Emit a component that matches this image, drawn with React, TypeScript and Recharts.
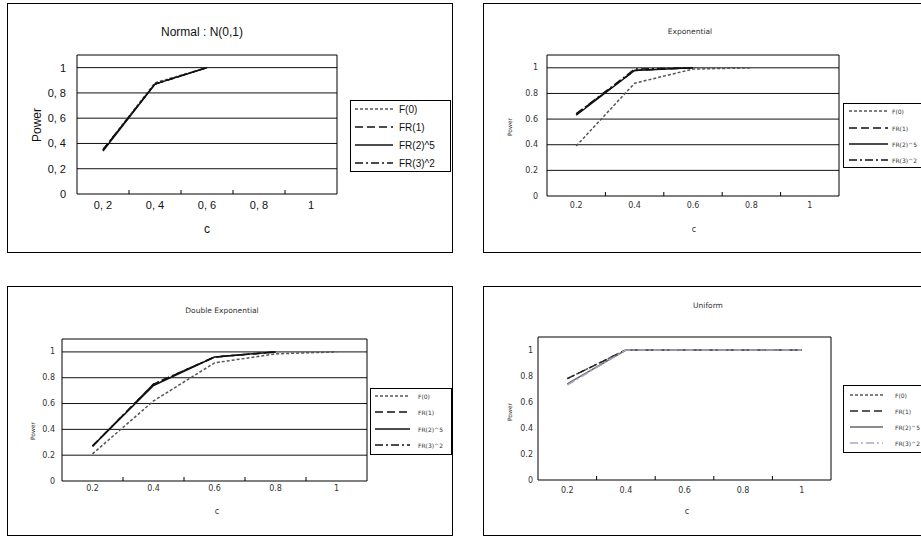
import React from 'react';
import { LineChart, Line, XAxis, YAxis, CartesianGrid, ReferenceArea, Legend } from 'recharts';

// ---- data ----
const cValues = [0.2, 0.4, 0.6, 0.8, 1];
const xTickValues = [0.2, 0.3, 0.4, 0.5, 0.6, 0.7, 0.8, 0.9, 1];
const yTickValues = [0, 0.2, 0.4, 0.6, 0.8, 1];

const normalXLabels = ['0, 2', '0, 4', '0, 6', '0, 8', '1'];
const normalYLabels = ['0', '0, 2', '0, 4', '0, 6', '0, 8', '1'];
const dotXLabels = ['0.2', '0.4', '0.6', '0.8', '1'];
const dotYLabels = ['0', '0.2', '0.4', '0.6', '0.8', '1'];

const seriesNames = ['F(0)', 'FR(1)', 'FR(2)^5', 'FR(3)^2'];

const normalF0 = [0.35, 0.88, 1.0, null, null];
const normalFR1 = [0.35, 0.87, 1.0, null, null];
const normalFR2 = [0.34, 0.87, 1.0, null, null];
const normalFR3 = [0.35, 0.87, 1.0, null, null];

const expF0 = [0.39, 0.88, 0.99, 1.0, null];
const expFR1 = [0.64, 0.98, 1.0, null, null];
const expFR2 = [0.63, 0.98, 1.0, null, null];
const expFR3 = [0.64, 0.99, 1.0, null, null];

const dexpF0 = [0.21, 0.62, 0.915, 0.985, 1.0];
const dexpFR1 = [0.27, 0.75, 0.96, 1.0, null];
const dexpFR2 = [0.27, 0.74, 0.96, 1.0, null];
const dexpFR3 = [0.27, 0.75, 0.96, 1.0, null];

const unifF0 = [0.78, 1.0, 1.0, 1.0, 1.0];
const unifFR1 = [0.78, 1.0, 1.0, 1.0, 1.0];
const unifFR2 = [0.74, 1.0, 1.0, 1.0, 1.0];
const unifFR3 = [0.73, 1.0, 1.0, 1.0, 1.0];

const buildRows = (f0: any[], fr1: any[], fr2: any[], fr3: any[]) =>
  cValues.map((c, i) => ({ c, f0: f0[i], fr1: fr1[i], fr2: fr2[i], fr3: fr3[i] }));

const seriesKeys = ['f0', 'fr1', 'fr2', 'fr3'];
const seriesDash = ['3 2', '8 4', undefined, '8 3 2 3'];
const darkColors = ['#555', '#111', '#111', '#111'];
const uniformColors = ['#555', '#222', '#666', '#a8a8c8'];

type PanelCfg = {
  left: number; top: number; width: number; height: number;
  margin: { top: number; right: number; bottom: number; left: number };
  title: string; titleX: number; titleY: number; titleSize: number;
  cX: number; cY: number; labelSize: number;
  powerX: number; powerY: number; powerSize: number;
  tickSize: number; xLabelDy: number; yGap: number;
  xLabels: string[]; yLabels: string[];
  rows: any[]; colors: string[]; grid: boolean;
  font: string; textColor: string;
  legend: { x: number; y: number; w: number; h: number; lx1: number; lx2: number; tx: number; rows: number[]; size: number };
};

const Panel = ({ cfg }: { cfg: PanelCfg }) => {
  const XTick = (props: any) => {
    const { x, y, index } = props;
    if (index % 2 === 1) {
      return <line x1={x} x2={x} y1={y} y2={y - 4} stroke="#000" strokeWidth={1} />;
    }
    return (
      <text x={x} y={y + cfg.xLabelDy} textAnchor="middle" dominantBaseline="central"
        fontSize={cfg.tickSize} fontFamily={cfg.font} fill={cfg.textColor}>
        {cfg.xLabels[index / 2]}
      </text>
    );
  };
  const YTick = (props: any) => {
    const { x, y, index } = props;
    return (
      <text x={x} y={y} textAnchor="end" dominantBaseline="central"
        fontSize={cfg.tickSize} fontFamily={cfg.font} fill={cfg.textColor}>
        {cfg.yLabels[index]}
      </text>
    );
  };
  const lg = cfg.legend;
  const renderLegend = () => (
    <div style={{ width: lg.w, height: lg.h, border: '1px solid #000', boxSizing: 'border-box', background: '#fff' }}>
      <svg width={lg.w} height={lg.h} style={{ display: 'block', marginLeft: -1, marginTop: -1, overflow: 'visible' }}>
        {seriesNames.map((n, i) => (
          <g key={n}>
            <line x1={lg.lx1} x2={lg.lx2} y1={lg.rows[i]} y2={lg.rows[i]} stroke={cfg.colors[i]}
              strokeDasharray={seriesDash[i]} strokeWidth={1.5} />
            <text x={lg.tx} y={lg.rows[i]} dominantBaseline="central" fontSize={lg.size}
              fontFamily={cfg.font} fill={cfg.textColor}>{n}</text>
          </g>
        ))}
      </svg>
    </div>
  );
  return (
    <div style={{ position: 'absolute', left: cfg.left, top: cfg.top, width: cfg.width, height: cfg.height }}>
      <div style={{ position: 'absolute', inset: 0, border: '1px solid #000', boxSizing: 'border-box' }} />
      <LineChart width={cfg.width} height={cfg.height} data={cfg.rows} margin={cfg.margin}>
        {cfg.grid && (
          <CartesianGrid vertical={false} stroke="#111" strokeWidth={1} horizontalValues={[0.2, 0.4, 0.6, 0.8, 1]} yAxisId="y" xAxisId="x" />
        )}
        <XAxis xAxisId="x" dataKey="c" type="number" domain={[0.1, 1.1]} ticks={xTickValues}
          axisLine={false} tickLine={false} tickSize={0} tickMargin={0} height={30}
          tick={<XTick />} interval={0} allowDataOverflow />
        <YAxis yAxisId="y" type="number" domain={[0, 1.1]} ticks={yTickValues}
          axisLine={false} tickLine={false} tickSize={0} tickMargin={cfg.yGap} width={40}
          tick={<YTick />} interval={0} allowDataOverflow />
        <ReferenceArea xAxisId="x" yAxisId="y" x1={0.1} x2={1.1} y1={0} y2={1.1}
          fill="none" fillOpacity={0} stroke="#000" strokeWidth={1} ifOverflow="visible" />
        {seriesKeys.map((k, i) => (
          <Line key={k} xAxisId="x" yAxisId="y" type="linear" dataKey={k} name={seriesNames[i]}
            stroke={cfg.colors[i]} strokeDasharray={seriesDash[i]} strokeWidth={1.5}
            dot={false} activeDot={false} isAnimationActive={false} connectNulls={false} />
        ))}
        <Legend layout="vertical" align="center" verticalAlign="middle" content={renderLegend}
          wrapperStyle={{ left: lg.x, top: lg.y, width: lg.w, height: lg.h }} />
        <text x={cfg.titleX} y={cfg.titleY} textAnchor="middle" dominantBaseline="central"
          fontSize={cfg.titleSize} fontFamily={cfg.font} fill={cfg.textColor}>{cfg.title}</text>
        <text x={cfg.cX} y={cfg.cY} textAnchor="middle" dominantBaseline="central"
          fontSize={cfg.labelSize} fontFamily={cfg.font} fill={cfg.textColor}>c</text>
        <text x={cfg.powerX} y={cfg.powerY} textAnchor="middle" dominantBaseline="central"
          transform={`rotate(-90 ${cfg.powerX} ${cfg.powerY})`}
          fontSize={cfg.powerSize} fontFamily={cfg.font} fill={cfg.textColor}>Power</text>
      </LineChart>
    </div>
  );
};

const bigFont = '"Liberation Sans", Arial, sans-serif';
const smallFont = '"DejaVu Sans", sans-serif';

const panels: PanelCfg[] = [
  {
    left: 7, top: 3, width: 446, height: 250,
    margin: { top: 52, right: 116, bottom: 29, left: 30 },
    title: 'Normal : N(0,1)', titleX: 195, titleY: 29, titleSize: 12,
    cX: 200, cY: 226, labelSize: 12, powerX: 30, powerY: 122, powerSize: 12,
    tickSize: 11, xLabelDy: 11, yGap: 11,
    xLabels: normalXLabels, yLabels: normalYLabels,
    rows: buildRows(normalF0, normalFR1, normalFR2, normalFR3), colors: darkColors, grid: true,
    font: bigFont, textColor: '#111',
    legend: { x: 343, y: 97, w: 101, h: 72, lx1: 5, lx2: 43, tx: 49, rows: [9, 27, 45, 63], size: 10 },
  },
  {
    left: 483, top: 3, width: 446, height: 250,
    margin: { top: 52, right: 90, bottom: 27, left: 24 },
    title: 'Exponential', titleX: 207, titleY: 28, titleSize: 7.5,
    cX: 211, cY: 226, labelSize: 8, powerX: 26, powerY: 124, powerSize: 6,
    tickSize: 8, xLabelDy: 9, yGap: 9,
    xLabels: dotXLabels, yLabels: dotYLabels,
    rows: buildRows(expF0, expFR1, expFR2, expFR3), colors: darkColors, grid: true,
    font: smallFont, textColor: '#333',
    legend: { x: 360, y: 100, w: 101, h: 65, lx1: 6, lx2: 45, tx: 49, rows: [8, 25, 41, 57], size: 6 },
  },
  {
    left: 7, top: 286, width: 446, height: 250,
    margin: { top: 53, right: 86, bottom: 25, left: 15 },
    title: 'Double Exponential', titleX: 215, titleY: 24, titleSize: 7.5,
    cX: 210, cY: 225, labelSize: 8, powerX: 25, powerY: 145, powerSize: 6,
    tickSize: 8, xLabelDy: 7, yGap: 7,
    xLabels: dotXLabels, yLabels: dotYLabels,
    rows: buildRows(dexpF0, dexpFR1, dexpFR2, dexpFR3), colors: darkColors, grid: true,
    font: smallFont, textColor: '#333',
    legend: { x: 363, y: 102, w: 82, h: 67, lx1: 5, lx2: 40, tx: 48, rows: [8, 24, 41, 57], size: 6 },
  },
  {
    left: 483, top: 286, width: 446, height: 250,
    margin: { top: 51, right: 98, bottom: 26, left: 15 },
    title: 'Uniform', titleX: 225, titleY: 19, titleSize: 7.5,
    cX: 204, cY: 225, labelSize: 8, powerX: 26, powerY: 126, powerSize: 6,
    tickSize: 8, xLabelDy: 10, yGap: 5,
    xLabels: dotXLabels, yLabels: dotYLabels,
    rows: buildRows(unifF0, unifFR1, unifFR2, unifFR3), colors: uniformColors, grid: false,
    font: smallFont, textColor: '#333',
    legend: { x: 360, y: 99, w: 90, h: 68, lx1: 7, lx2: 40, tx: 52, rows: [10, 26, 42, 58], size: 6 },
  },
];

export default function App() {
  return (
    <div style={{ position: 'absolute', left: 0, top: 0, width: 921, height: 536, overflow: 'hidden', background: '#fff' }}>
      {panels.map((p, i) => (
        <Panel key={i} cfg={p} />
      ))}
    </div>
  );
}
